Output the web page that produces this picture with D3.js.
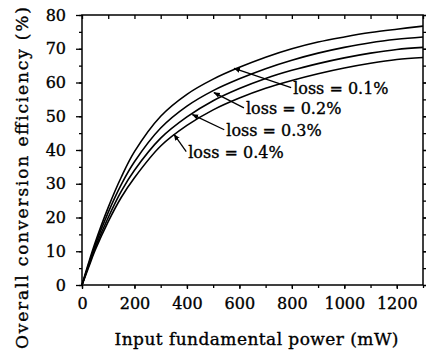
<!DOCTYPE html>
<html lang="en">
<head>
<meta charset="UTF-8">
<title>Overall conversion efficiency</title>
<script src="https://d3js.org/d3.v7.min.js"></script>
<style>
    body { margin: 0; background: #fff; }
    svg { display: block; font-family: "DejaVu Serif", serif; }
    svg text { stroke: #000; stroke-width: 0.35px; fill: #000; }
</style>
</head>
<body>
<div id="chart"></div>
<script>
    // input power (mW)
    const power = [0, 25, 50, 100, 150, 200, 300, 400, 500, 600, 700, 800, 900, 1000, 1100, 1200, 1300];
    // overall conversion efficiency (%) for each loss value
    const loss01 = [0, 6.5, 12.5, 23, 32, 39.5, 50, 56.5, 61, 64.5, 67.5, 70, 72, 73.5, 74.8, 75.8, 76.7];
    const loss02 = [0, 6, 11.8, 21.5, 29.8, 36.5, 46.5, 53, 57.6, 61.1, 64.1, 66.6, 68.7, 70.4, 71.8, 72.8, 73.5];
    const loss03 = [0, 5.6, 11, 20, 27.8, 34, 43.5, 49.8, 54.6, 58.2, 61.2, 63.6, 65.6, 67.3, 68.7, 69.8, 70.4];
    const loss04 = [0, 5.2, 10.3, 18.8, 26, 31.8, 41.2, 47.3, 51.9, 55.4, 58.3, 60.6, 62.6, 64.3, 65.7, 66.8, 67.4];
    const seriesNames = ["loss = 0.1%", "loss = 0.2%", "loss = 0.3%", "loss = 0.4%"];
    const xTicks = [0, 200, 400, 600, 800, 1000, 1200];
    const yTicks = [0, 10, 20, 30, 40, 50, 60, 70, 80];

    const width = 426, height = 353;
    const margin = {top: 15, right: 3, bottom: 68, left: 82};

    const svg = d3.select("#chart").append("svg")
        .attr("width", width)
        .attr("height", height);

    const x = d3.scaleLinear().domain([0, 1300]).range([margin.left, width - margin.right]);
    const y = d3.scaleLinear().domain([0, 80]).range([height - margin.bottom, margin.top]);

    const axisStyle = g => {
        g.select(".domain").remove();
        g.selectAll("line").attr("stroke", "#000").attr("stroke-width", 1.3);
        g.selectAll("text").attr("font-size", 16)
            .attr("font-family", "DejaVu Serif, serif");
    };

    // minor ticks
    const xMinor = d3.range(0, 1301, 100);
    const yMinor = d3.range(0, 81, 5);

    svg.append("g").attr("transform", `translate(0,${y(0)})`)
        .call(d3.axisBottom(x).tickValues(xMinor).tickSize(3).tickFormat(""))
        .call(axisStyle);
    svg.append("g").attr("transform", `translate(0,${y(0)})`)
        .call(d3.axisBottom(x).tickValues(xTicks).tickSize(4).tickPadding(9).tickFormat(d3.format("d")))
        .call(axisStyle);
    svg.append("g").attr("transform", `translate(0,${y(80)})`)
        .call(d3.axisBottom(x).tickValues(xMinor).tickSize(4).tickFormat(""))
        .call(axisStyle);

    svg.append("g").attr("transform", `translate(${x(0)},0)`)
        .call(d3.axisLeft(y).tickValues(yMinor).tickSize(3).tickFormat(""))
        .call(axisStyle);
    svg.append("g").attr("transform", `translate(${x(0)},0)`)
        .call(d3.axisLeft(y).tickValues(yTicks).tickSize(6).tickPadding(10))
        .call(axisStyle);
    svg.append("g").attr("transform", `translate(${x(1300)},0)`)
        .call(d3.axisLeft(y).tickValues(yMinor).tickSize(-3).tickFormat(""))
        .call(axisStyle);
    svg.append("g").attr("transform", `translate(${x(1300)},0)`)
        .call(d3.axisLeft(y).tickValues(yTicks).tickSize(-5).tickFormat(""))
        .call(axisStyle);

    // frame
    svg.append("rect")
        .attr("x", x(0)).attr("y", y(80))
        .attr("width", x(1300) - x(0)).attr("height", y(0) - y(80))
        .attr("fill", "none").attr("stroke", "#000").attr("stroke-width", 1.5);

    // curves
    const line = d3.line()
        .curve(d3.curveCatmullRom.alpha(0.5))
        .x((d, i) => x(power[i]))
        .y(d => y(d));

    [loss01, loss02, loss03, loss04].forEach(s => {
        svg.append("path")
            .datum(s)
            .attr("fill", "none")
            .attr("stroke", "#000")
            .attr("stroke-width", 1.6)
            .attr("d", line);
    });

    // labels with leader arrows: tip on curve (power, value), label start (power, value)
    const labelTips = [[580, 64.2], [503, 57], [421, 50.5], [351, 44.6]];
    const labelAt = [[805, 58.5], [625, 52.5], [550, 46], [405, 39.5]];

    svg.append("defs").append("marker")
        .attr("id", "arrow")
        .attr("viewBox", "0 0 10 10")
        .attr("refX", 9).attr("refY", 5)
        .attr("markerWidth", 5).attr("markerHeight", 5)
        .attr("orient", "auto")
        .append("path").attr("d", "M0,1 L10,5 L0,9 z").attr("fill", "#000");

    seriesNames.forEach((name, i) => {
        const [tp, tv] = labelTips[i];
        const [lp, lv] = labelAt[i];
        svg.append("line")
            .attr("x1", x(lp) - 2).attr("y1", y(lv))
            .attr("x2", x(tp)).attr("y2", y(tv))
            .attr("stroke", "#000").attr("stroke-width", 1.3)
            .attr("marker-end", "url(#arrow)");
        svg.append("text")
            .attr("x", x(lp))
            .attr("y", y(lv) + 6)
            .attr("font-size", 16)
            .text(name);
    });

    // axis titles
    svg.append("text")
        .attr("x", (x(0) + x(1300)) / 2 + 4)
        .attr("y", 345)
        .attr("text-anchor", "middle")
        .attr("font-size", 17)
        .attr("textLength", 284)
        .text("Input fundamental power (mW)");

    svg.append("text")
        .attr("transform", `translate(28,${(y(0) + y(80)) / 2 + 28}) rotate(-90)`)
        .attr("text-anchor", "middle")
        .attr("font-size", 17)
        .attr("textLength", 342)
        .text("Overall conversion efficiency (%)");
</script>
</body>
</html>
